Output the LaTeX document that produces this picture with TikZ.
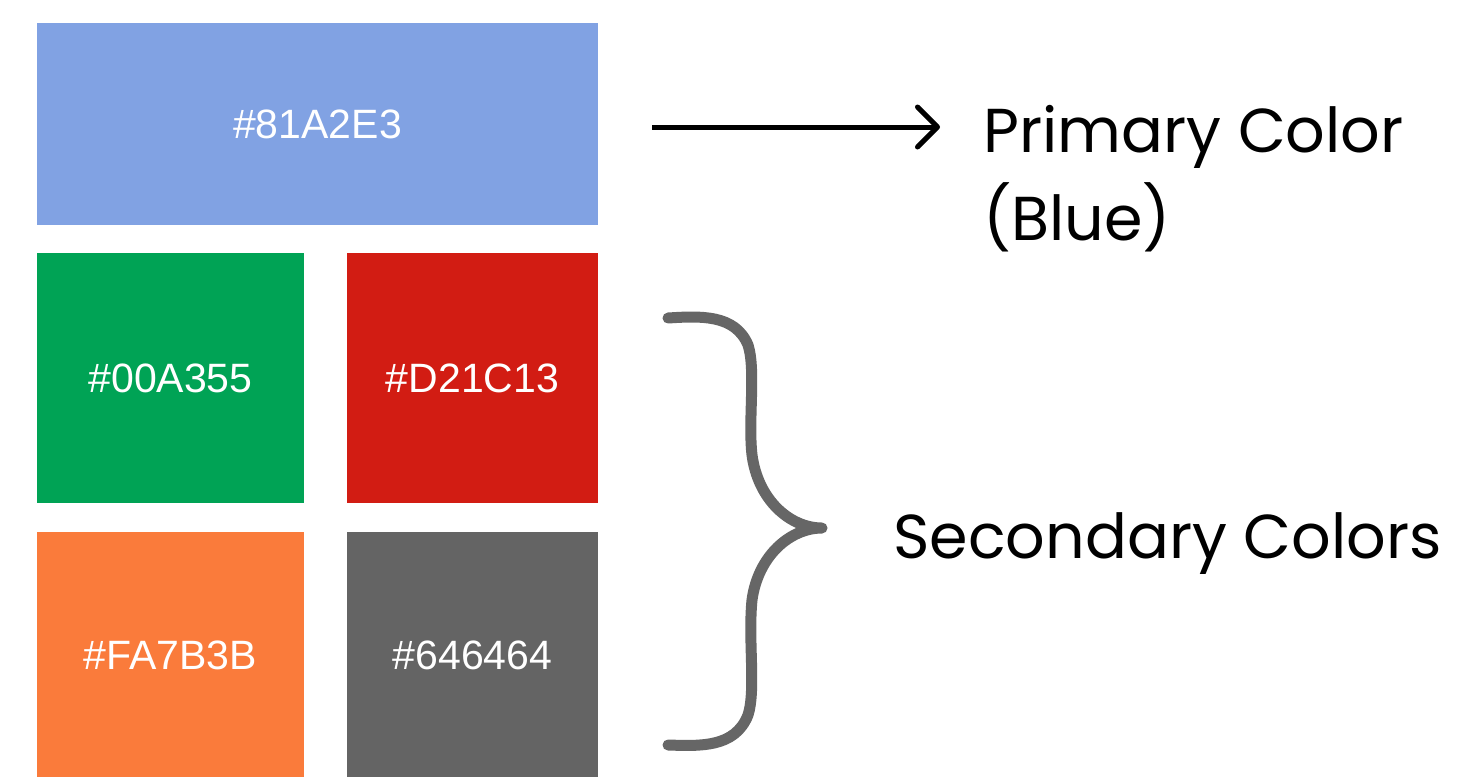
\documentclass[tikz,border=0pt]{standalone}
\usepackage{fontspec}
\setmainfont{Liberation Sans}
\newfontfamily\labfont{Poppins}
\usetikzlibrary{arrows.meta}
\definecolor{cblue}{HTML}{81A2E3}
\definecolor{cgreen}{HTML}{00A355}
\definecolor{cred}{HTML}{D21C13}
\definecolor{corange}{HTML}{FA7B3B}
\definecolor{cgray}{HTML}{646464}
\definecolor{bracegray}{HTML}{666666}
\tikzset{
  swatch/.style={fill=#1, draw=none, inner sep=0pt, text=white,
    font=\fontsize{20.5}{24}\selectfont},
  biglabel/.style={inner sep=0pt, text=black, font=\labfont\fontsize{31}{36}\selectfont},
}
\begin{document}
\begin{tikzpicture}[x=0.5pt,y=-0.5pt]
\useasboundingbox[fill=white] (0,0) rectangle (1470,776);
% swatches
\node[swatch=cblue, minimum width=280.5pt, minimum height=101pt] (blue) at (317.5,124) {\#81A2E3};
\node[swatch=cgreen, minimum width=133.5pt, minimum height=125pt] (green) at (170.5,378) {\#00A355};
\node[swatch=cred, minimum width=125.5pt, minimum height=125pt] (red) at (472.5,378) {\#D21C13};
\node[swatch=corange, minimum width=133.5pt, minimum height=123pt] (orange) at (170.5,655) {\#FA7B3B};
\node[swatch=cgray, minimum width=125.5pt, minimum height=123pt] (gray) at (472.5,655) {\#646464};
% labels
\node[biglabel, anchor=base west] (prim) at (983,152) {Primary Color};
\node[biglabel, anchor=base west] (primb) at (983,240) {(Blue)};
\node[biglabel, anchor=base west] (sec) at (893,558) {Secondary Colors};
% arrow
\coordinate (arrS) at (652,127);
\coordinate (arrE) at (940,127);
\draw[line width=2.5pt, -{Straight Barb[length=10pt,width=20pt,line cap=round,line join=round]}] (arrS) -- (arrE);
% brace
\draw[bracegray, line width=5.5pt, line cap=round, line join=round]
  (668,318) .. controls (700,316) and (735,314) .. (748,345)
  .. controls (756,370) and (748,420) .. (752,455)
  .. controls (758,500) and (790,528) .. (822,528)
  .. controls (790,528) and (758,556) .. (752,600)
  .. controls (748,640) and (756,690) .. (748,715)
  .. controls (735,748) and (700,746) .. (668,745);
\end{tikzpicture}
\end{document}
